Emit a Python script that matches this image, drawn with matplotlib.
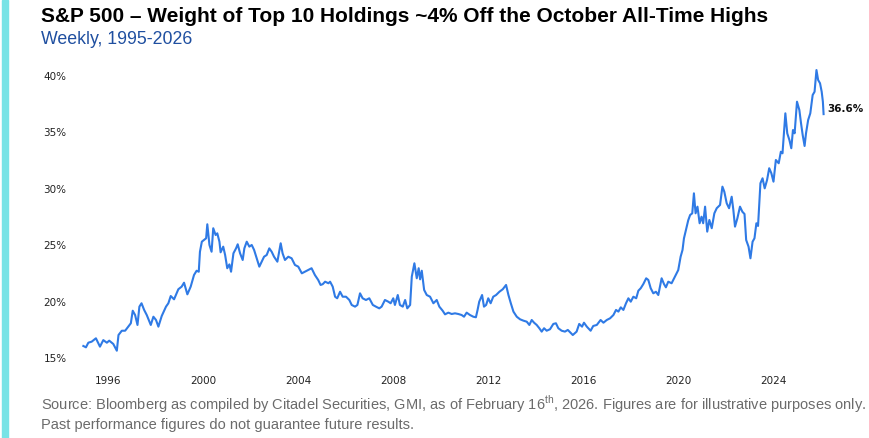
import matplotlib
matplotlib.use("Agg")
import matplotlib.pyplot as plt
from matplotlib.patches import Rectangle

# weight of top 10 holdings in S&P 500 (%)
years = [
    1994.96, 1995.07, 1995.17, 1995.31, 1995.49, 1995.66, 1995.80, 1995.95,
    1996.05, 1996.22, 1996.37, 1996.44, 1996.58, 1996.72, 1996.85, 1996.96,
    1997.04, 1997.14, 1997.24, 1997.32, 1997.41, 1997.52, 1997.63, 1997.80,
    1997.91, 1998.02, 1998.12, 1998.26, 1998.44, 1998.54, 1998.64, 1998.78,
    1998.96, 1999.10, 1999.20, 1999.34, 1999.48, 1999.62, 1999.73, 1999.82,
    1999.87, 1999.95, 2000.04, 2000.13, 2000.18, 2000.27, 2000.36, 2000.43,
    2000.53, 2000.60, 2000.69, 2000.74, 2000.85, 2000.93, 2001.02, 2001.11,
    2001.18, 2001.28, 2001.39, 2001.46, 2001.56, 2001.67, 2001.74, 2001.84,
    2001.95, 2002.05, 2002.15, 2002.26, 2002.37, 2002.47, 2002.57, 2002.68,
    2002.79, 2002.89, 2002.99, 2003.13, 2003.27, 2003.35, 2003.45, 2003.59,
    2003.73, 2003.87, 2004.01, 2004.16, 2004.29, 2004.43, 2004.57, 2004.71,
    2004.85, 2004.95, 2005.04, 2005.14, 2005.28, 2005.35, 2005.46, 2005.56,
    2005.65, 2005.77, 2005.88, 2006.02, 2006.16, 2006.26, 2006.40, 2006.50,
    2006.61, 2006.72, 2006.86, 2007.00, 2007.15, 2007.28, 2007.42, 2007.52,
    2007.66, 2007.80, 2007.90, 2008.01, 2008.08, 2008.20, 2008.29, 2008.41,
    2008.51, 2008.60, 2008.72, 2008.79, 2008.90, 2009.00, 2009.08, 2009.14,
    2009.21, 2009.31, 2009.42, 2009.56, 2009.70, 2009.84, 2009.95, 2010.09,
    2010.19, 2010.33, 2010.47, 2010.61, 2010.75, 2010.89, 2010.99, 2011.10,
    2011.24, 2011.38, 2011.49, 2011.56, 2011.63, 2011.75, 2011.83, 2011.92,
    2012.01, 2012.11, 2012.22, 2012.34, 2012.48, 2012.62, 2012.76, 2012.86,
    2012.96, 2013.07, 2013.21, 2013.35, 2013.49, 2013.63, 2013.74, 2013.84,
    2013.94, 2014.05, 2014.16, 2014.26, 2014.36, 2014.47, 2014.61, 2014.75,
    2014.86, 2014.96, 2015.10, 2015.24, 2015.36, 2015.57, 2015.73, 2015.84,
    2015.96, 2016.04, 2016.16, 2016.32, 2016.43, 2016.58, 2016.74, 2016.86,
    2017.00, 2017.14, 2017.28, 2017.39, 2017.49, 2017.59, 2017.70, 2017.81,
    2017.91, 2018.01, 2018.12, 2018.24, 2018.33, 2018.43, 2018.54, 2018.66,
    2018.75, 2018.85, 2018.96, 2019.07, 2019.17, 2019.31, 2019.41, 2019.49,
    2019.59, 2019.73, 2019.87, 2020.01, 2020.11, 2020.19, 2020.25, 2020.34,
    2020.43, 2020.51, 2020.60, 2020.67, 2020.74, 2020.82, 2020.91, 2020.99,
    2021.06, 2021.14, 2021.23, 2021.32, 2021.42, 2021.53, 2021.63, 2021.77,
    2021.87, 2021.95, 2022.05, 2022.15, 2022.26, 2022.33, 2022.40, 2022.50,
    2022.61, 2022.71, 2022.80, 2022.87, 2022.97, 2023.05, 2023.14, 2023.22,
    2023.30, 2023.37, 2023.47, 2023.56, 2023.65, 2023.75, 2023.84, 2023.93,
    2024.02, 2024.12, 2024.24, 2024.33, 2024.40, 2024.46, 2024.52, 2024.60,
    2024.69, 2024.77, 2024.84, 2024.91, 2025.01, 2025.11, 2025.18, 2025.25,
    2025.33, 2025.39, 2025.48, 2025.57, 2025.67, 2025.75, 2025.83, 2025.90,
    2025.98, 2026.05, 2026.10, 2026.13,
]
weights = [
    16.08, 15.96, 16.37, 16.46, 16.76, 16.02, 16.60, 16.37,
    16.55, 16.26, 15.66, 17.05, 17.43, 17.43, 17.79, 18.09,
    19.20, 18.82, 17.94, 19.56, 19.86, 19.27, 18.82, 17.94,
    18.67, 18.38, 17.79, 18.73, 19.56, 19.86, 20.50, 20.21,
    21.10, 21.33, 21.68, 20.65, 21.33, 22.36, 22.74, 22.65,
    24.42, 25.31, 25.46, 25.61, 26.85, 25.02, 24.42, 26.50,
    25.90, 26.05, 25.31, 24.37, 24.87, 24.13, 22.96, 23.30,
    22.65, 24.28, 24.72, 25.08, 24.28, 23.69, 24.72, 25.31,
    24.87, 25.02, 24.58, 23.84, 23.10, 23.54, 23.98, 24.13,
    24.72, 24.42, 23.98, 23.54, 25.17, 24.28, 23.69, 23.98,
    23.84, 23.25, 23.10, 22.51, 22.65, 22.80, 22.96, 22.36,
    21.92, 21.48, 21.55, 21.77, 21.63, 21.77, 21.33, 20.44,
    20.30, 20.88, 20.44, 20.44, 20.15, 19.71, 19.56, 19.71,
    20.74, 20.30, 20.15, 20.30, 19.71, 19.56, 19.41, 19.56,
    20.15, 20.00, 19.86, 20.30, 19.71, 20.59, 19.71, 19.56,
    20.15, 19.41, 19.71, 22.21, 23.40, 22.07, 22.96, 21.98,
    22.74, 21.04, 20.59, 20.44, 19.86, 20.15, 19.56, 19.20,
    18.88, 19.03, 18.91, 18.97, 18.91, 18.82, 18.67, 19.03,
    18.82, 18.67, 18.62, 19.27, 20.00, 20.59, 19.56, 19.71,
    20.30, 19.86, 20.44, 20.59, 20.88, 21.10, 21.48, 20.59,
    19.86, 19.12, 18.67, 18.44, 18.32, 18.23, 17.94, 18.38,
    18.14, 17.94, 17.65, 17.35, 17.65, 17.43, 17.56, 18.03,
    18.09, 17.65, 17.43, 17.35, 17.50, 17.05, 17.35, 18.03,
    17.79, 18.14, 17.79, 17.43, 17.85, 17.94, 18.38, 18.14,
    18.38, 18.53, 18.82, 19.27, 19.12, 19.50, 19.27, 19.86,
    20.30, 20.00, 20.44, 20.30, 20.97, 21.19, 21.56, 22.07,
    21.92, 21.19, 20.74, 20.88, 20.59, 22.07, 21.56, 21.27,
    21.77, 21.63, 22.21, 22.80, 23.98, 24.58, 25.60, 26.40,
    27.20, 27.67, 27.82, 29.59, 27.82, 28.41, 26.94, 27.52,
    26.94, 28.41, 26.20, 27.23, 26.50, 27.82, 28.27, 28.56,
    30.18, 29.73, 28.71, 28.27, 29.29, 28.12, 26.64, 27.38,
    28.41, 27.96, 27.76, 25.46, 24.87, 23.84, 25.31, 25.61,
    26.94, 26.70, 30.48, 30.92, 30.03, 30.77, 31.81, 31.37,
    30.62, 32.54, 32.25, 33.27, 33.13, 34.90, 36.67, 34.90,
    34.31, 33.58, 35.19, 34.90, 37.70, 36.96, 35.79, 34.75,
    33.78, 34.90, 36.08, 36.67, 38.29, 38.58, 40.50, 39.62,
    39.33, 38.58, 37.70, 36.60,
]
xticks = [1996, 2000, 2004, 2008, 2012, 2016, 2020, 2024]
yticks = [15, 20, 25, 30, 35, 40]

plt.rcParams['mathtext.fontset'] = 'custom'
plt.rcParams['mathtext.rm'] = 'Liberation Sans'

fig = plt.figure(figsize=(8.69, 4.38), dpi=100)
ax = fig.add_axes([0.0806, 0.1598, 0.886, 0.6986])

ax.plot(years, weights, color='#2f7ae5', lw=1.5)
ax.annotate('36.6%', (years[-1], weights[-1]), xytext=(2.5, 3.5),
            textcoords='offset points', va='center', ha='left',
            fontsize=7.5, fontweight='bold', color='#111111')

ax.set_xlim(1994.4, 2026.82)
ax.set_ylim(14.13, 41.21)
ax.set_xticks(xticks)
ax.set_xticklabels([str(y) for y in xticks])
ax.set_yticks(yticks)
ax.set_yticklabels(['%d%%' % v for v in yticks])
ax.tick_params(length=0, labelsize=7.5, labelcolor='#222222')
ax.tick_params(axis='x', pad=6)
ax.tick_params(axis='y', pad=2.5)
for s in ax.spines.values():
    s.set_visible(False)

# cyan side bar
fig.patches.append(Rectangle((2 / 869, 0), 6 / 869, 1, transform=fig.transFigure,
                             color='#79e3e6', zorder=0))

fig.text(41 / 869, 1 - 22 / 438, 'S&P 500 – Weight of Top 10 Holdings ~4% Off the October All-Time Highs',
         fontsize=15, fontweight='bold', family='Liberation Sans', color='black')
fig.text(41 / 869, 1 - 44 / 438, 'Weekly, 1995-2026',
         fontsize=12.8, family='Liberation Sans', color='#1f4fa0')
fig.text(41 / 869, 1 - 410 / 438,
         'Source: Bloomberg as compiled by Citadel Securities, GMI, as of February 16$^{\\mathrm{th}}$, 2026. '
         'Figures are for illustrative purposes only.',
         fontsize=10.5, family='Liberation Sans', color='#6b6b6b')
fig.text(41 / 869, 1 - 429 / 438,
         'Past performance figures do not guarantee future results.',
         fontsize=10.5, family='Liberation Sans', color='#6b6b6b')

fig.savefig('out.png', dpi=100)
